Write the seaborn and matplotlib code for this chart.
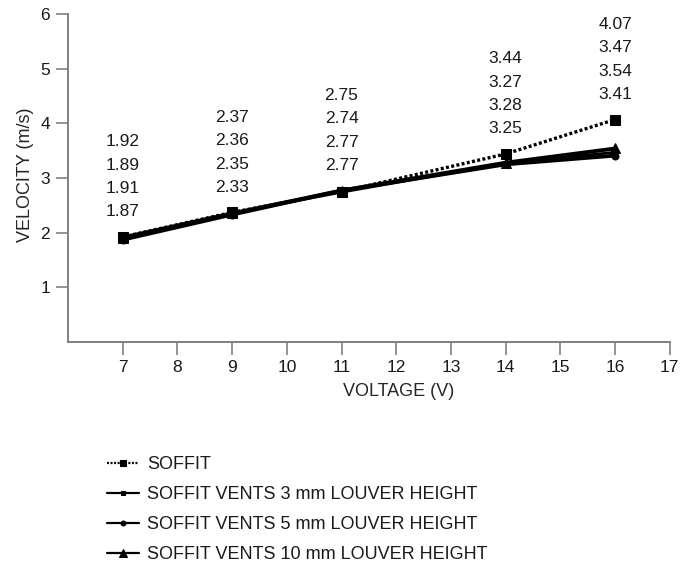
import pandas as pd
import matplotlib
matplotlib.use("Agg")
import matplotlib.pyplot as plt
import seaborn as sns

# Values
voltage = [7, 9, 11, 14, 16]
soffit = [1.92, 2.37, 2.75, 3.44, 4.07]
vents_3mm = [1.89, 2.36, 2.74, 3.27, 3.47]
vents_10mm = [1.91, 2.35, 2.77, 3.28, 3.54]
vents_5mm = [1.87, 2.33, 2.77, 3.25, 3.41]

series_names = [
    "SOFFIT",
    "SOFFIT VENTS 3 mm LOUVER HEIGHT",
    "SOFFIT VENTS 5 mm LOUVER HEIGHT",
    "SOFFIT VENTS 10 mm LOUVER HEIGHT",
]
series_values = [soffit, vents_3mm, vents_5mm, vents_10mm]
# order of the stacked value labels, top to bottom
label_rows = [soffit, vents_3mm, vents_10mm, vents_5mm]

x_ticks = list(range(7, 18))
y_ticks = [1, 2, 3, 4, 5, 6]

rows = []
for name, vals in zip(series_names, series_values):
    for v, y in zip(voltage, vals):
        rows.append({"Voltage": v, "Velocity": y, "Series": name})
df = pd.DataFrame(rows)

sns.set_style("ticks")
plt.rcParams['font.family'] = ['Liberation Sans', 'DejaVu Sans']
plt.rcParams['text.color'] = '#1a1a1a'

fig = plt.figure(figsize=(6.8, 5.65), dpi=100)
ax = fig.add_axes([0.1, 0.395, 0.885, 0.58])

line_styles = {
    "SOFFIT": dict(dashes=(0.9, 0.7), marker='s', markersize=6.5, linewidth=2.4),
    "SOFFIT VENTS 3 mm LOUVER HEIGHT": dict(linestyle='-', marker='s', markersize=3.5, linewidth=2.0),
    "SOFFIT VENTS 5 mm LOUVER HEIGHT": dict(linestyle='-', marker='o', markersize=5, linewidth=2.8),
    "SOFFIT VENTS 10 mm LOUVER HEIGHT": dict(linestyle='-', marker='^', markersize=7.5, linewidth=2.8),
}

for name in series_names:
    sub = df[df["Series"] == name]
    sns.lineplot(data=sub, x="Voltage", y="Velocity", ax=ax, color='black',
                 label=name, markeredgecolor='black', **line_styles[name])

# value labels stacked above each voltage
for i, v in enumerate(voltage):
    top = max(vals[i] for vals in label_rows)
    for k, vals in enumerate(reversed(label_rows)):
        ax.annotate(f"{vals[i]:.2f}", xy=(v, top), xytext=(0, 18 + 16.8 * k),
                    textcoords='offset points', ha='center', va='center',
                    fontsize=12.5, color='#1a1a1a')

ax.set_xlim(6, 17)
ax.set_ylim(0, 6)
ax.set_xticks(x_ticks)
ax.set_yticks(y_ticks)
ax.tick_params(axis='both', length=9, width=1.2, color='#808080',
               labelsize=12.5, labelcolor='#1a1a1a', pad=4)
for s in ['left', 'bottom']:
    ax.spines[s].set_color('#808080')
    ax.spines[s].set_linewidth(1.4)
sns.despine(ax=ax)

ax.set_xlabel("VOLTAGE (V)", fontsize=13)
ax.set_ylabel("VELOCITY (m/s)", fontsize=13)
ax.xaxis.set_label_coords(0.55, -0.125)
ax.yaxis.set_label_coords(-0.057, 0.51)

leg = ax.legend(loc='upper left', bbox_to_anchor=(0.157, 0.193), bbox_transform=fig.transFigure,
                frameon=False, fontsize=13, handlelength=1.8, handletextpad=0.45,
                labelspacing=0.72, borderaxespad=0, borderpad=0, markerscale=0.7)
for h in leg.get_lines():
    h.set_linewidth(1.6)

fig.savefig("out.png", dpi=100)
